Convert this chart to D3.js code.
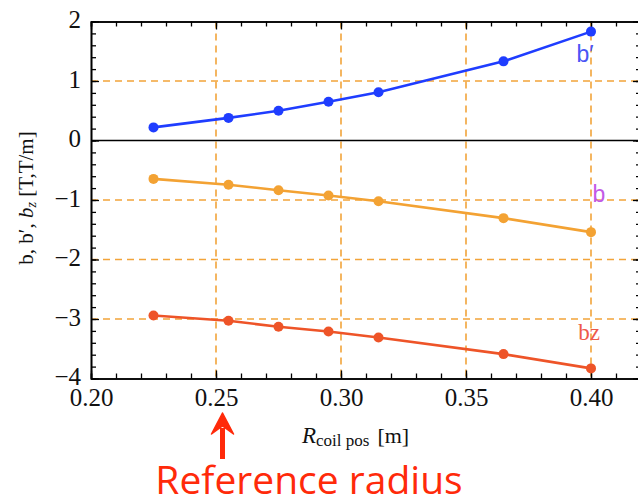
<!DOCTYPE html>
<html>
<head>
<meta charset="utf-8">
<script src="https://cdn.jsdelivr.net/npm/d3@7"></script>
<style>
  html, body { margin: 0; padding: 0; background: #fff; }
  svg { display: block; }
</style>
</head>
<body>
<div id="chart"></div>
<script>
// Data
const radius = [0.225, 0.255, 0.275, 0.295, 0.315, 0.365, 0.40];
const bPrime = [0.22, 0.38, 0.50, 0.65, 0.81, 1.33, 1.83];
const bVals = [-0.645, -0.745, -0.835, -0.925, -1.02, -1.305, -1.54];
const bzVals = [-2.94, -3.03, -3.13, -3.21, -3.31, -3.59, -3.83];
const xTicks = [0.20, 0.25, 0.30, 0.35, 0.40];
const yTicks = [-4, -3, -2, -1, 0, 1, 2];
const xGrid = [0.25, 0.30, 0.35, 0.40];
const yGrid = [1, -1, -2, -3];
const refRadius = 0.255;

const W = 638, H = 504;
const svg = d3.select("#chart").append("svg").attr("width", W).attr("height", H);

// Scales
const x = d3.scaleLinear().domain([0.20, 0.42]).range([91, 641]);
const y = d3.scaleLinear().domain([-4, 2]).range([378.5, 21.5]);
const [x0, x1] = x.range();
const [y0, y1] = y.range();

const gridColor = "#f2a43a";
const serif = "'Liberation Serif', 'DejaVu Serif', serif";

// Grid lines
const grid = svg.append("g");
grid.selectAll(".gx").data(xGrid).enter().append("line")
  .attr("x1", d => x(d)).attr("x2", d => x(d))
  .attr("y1", y1).attr("y2", y0)
  .style("stroke", gridColor).style("stroke-width", 1.6)
  .style("stroke-dasharray", "7,5");
grid.selectAll(".gy").data(yGrid).enter().append("line")
  .attr("x1", x0).attr("x2", x1)
  .attr("y1", d => y(d)).attr("y2", d => y(d))
  .style("stroke", gridColor).style("stroke-width", 1.6)
  .style("stroke-dasharray", "7,5");

// Zero line
svg.append("line")
  .attr("x1", x0).attr("x2", x1).attr("y1", y(0)).attr("y2", y(0))
  .style("stroke", "#000").style("stroke-width", 1.6);

// Axes (ticks inward)
const xMinor = d3.range(0.20, 0.4201, 0.01);
const yMinor = d3.range(-4, 2.001, 0.2);

function styleAxis(g) {
  g.attr("font-family", serif).attr("font-size", 25);
  g.select(".domain").style("stroke", "#000").style("stroke-width", 1.6);
  g.selectAll(".tick line").style("stroke", "#000").style("stroke-width", 1.3);
  g.selectAll(".tick text").style("font-family", serif).style("font-size", "25px").style("fill", "#111");
}

// bottom minor
svg.append("g").attr("transform", `translate(0,${y0})`)
  .call(d3.axisBottom(x).tickValues(xMinor).tickSize(-5).tickFormat(""))
  .call(styleAxis);
// bottom major
svg.append("g").attr("transform", `translate(0,${y0})`)
  .call(d3.axisBottom(x).tickValues(xTicks).tickSizeInner(-8).tickSizeOuter(0).tickPadding(14).tickFormat(d3.format(".2f")))
  .call(styleAxis)
  .call(g => g.selectAll(".tick text").attr("dy", "0.55em"));
// top
svg.append("g").attr("transform", `translate(0,${y1})`)
  .call(d3.axisTop(x).tickValues(xMinor).tickSize(-5).tickFormat(""))
  .call(styleAxis);
svg.append("g").attr("transform", `translate(0,${y1})`)
  .call(d3.axisTop(x).tickValues(xTicks).tickSizeInner(-8).tickSizeOuter(0).tickFormat(""))
  .call(styleAxis);
// left
svg.append("g").attr("transform", `translate(${x0},0)`)
  .call(d3.axisLeft(y).tickValues(yMinor).tickSize(-5).tickFormat(""))
  .call(styleAxis);
svg.append("g").attr("transform", `translate(${x0},0)`)
  .call(d3.axisLeft(y).tickValues(yTicks).tickSizeInner(-8).tickSizeOuter(0).tickPadding(10)
    .tickFormat(d => d < 0 ? "\u2212" + Math.abs(d) : String(d)))
  .call(styleAxis)
  .call(g => g.selectAll(".tick text").attr("dy", "0.25em"));
// right
svg.append("g").attr("transform", `translate(${x1},0)`)
  .call(d3.axisRight(y).tickValues(yMinor).tickSize(-5).tickFormat(""))
  .call(styleAxis);
svg.append("g").attr("transform", `translate(${x1},0)`)
  .call(d3.axisRight(y).tickValues(yTicks).tickSizeInner(-8).tickSizeOuter(0).tickFormat(""))
  .call(styleAxis);

// Series
const series = [
  { values: bPrime, color: "#1f3dff" },
  { values: bVals, color: "#f3a233" },
  { values: bzVals, color: "#ee5428" }
];

const line = d3.line().x(d => x(d[0])).y(d => y(d[1]));

series.forEach(s => {
  const pts = radius.map((r, i) => [r, s.values[i]]);
  svg.append("path").datum(pts)
    .attr("d", line)
    .style("fill", "none")
    .style("stroke", s.color)
    .style("stroke-width", 2.6);
  svg.selectAll(null).data(pts).enter().append("circle")
    .attr("cx", d => x(d[0])).attr("cy", d => y(d[1]))
    .attr("r", 5)
    .style("fill", s.color);
});

// Series labels
const sans = "'Liberation Sans', Arial, sans-serif";
svg.append("text").attr("x", x(0.40) - 6).attr("y", 62).attr("text-anchor", "middle")
  .style("font-family", sans).style("font-size", "23px").style("fill", "#4a55f5").text("b\u2032");
svg.append("text").attr("x", x(0.40) + 8).attr("y", 202).attr("text-anchor", "middle")
  .style("font-family", sans).style("font-size", "23px").style("fill", "#c25ae6").text("b");
svg.append("text").attr("x", x(0.40) - 2).attr("y", 340).attr("text-anchor", "middle")
  .style("font-family", serif).style("font-size", "23px").style("fill", "#ee5a4a").text("bz");

// X axis label
const xl = svg.append("text").attr("x", 302).attr("y", 443)
  .style("font-family", serif).style("fill", "#111");
xl.append("tspan").style("font-style", "italic").style("font-size", "23px").text("R");
xl.append("tspan").attr("dy", 3).style("font-size", "17px").text("coil pos");
xl.append("tspan").attr("dy", -3).attr("dx", 8).style("font-size", "22px").text("[m]");

// Y axis label
const yl = svg.append("text")
  .attr("transform", `translate(33,${(y0 + y1) / 2 - 2}) rotate(-90)`)
  .attr("text-anchor", "middle")
  .style("font-family", serif).style("font-size", "21px").style("fill", "#111");
yl.append("tspan").text("b, b\u2032, ");
yl.append("tspan").style("font-style", "italic").text("b");
yl.append("tspan").attr("dy", 3).style("font-size", "14px").style("font-style", "italic").text("z");
yl.append("tspan").attr("dy", -3).text(" [T,T/m]");

// Reference radius arrow + text
const red = "#ff2a0a";
const ax = x(refRadius) - 6;
svg.append("line").attr("x1", ax).attr("x2", ax).attr("y1", 428).attr("y2", 459)
  .style("stroke", red).style("stroke-width", 5);
svg.append("path")
  .attr("d", `M${ax},413 L${ax - 11},434 L${ax},426 L${ax + 11},434 Z`)
  .style("fill", red).style("stroke", red).style("stroke-width", 1.5)
  .style("stroke-linejoin", "round");

svg.append("text").attr("x", 309).attr("y", 494).attr("text-anchor", "middle")
  .style("font-family", "'Open Sans', 'Noto Sans', sans-serif").style("font-size", "39px")
  .style("fill", red).text("Reference radius");
</script>
</body>
</html>
